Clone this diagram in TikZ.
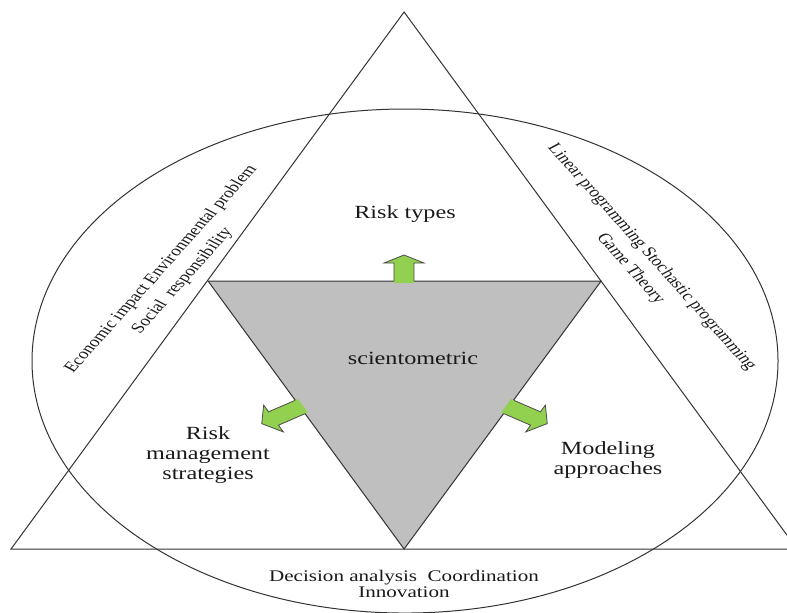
\documentclass[tikz,border=0pt]{standalone}
\usepackage{fontspec}
\setmainfont{Liberation Serif}
\usetikzlibrary{calc}
\definecolor{arrowgreen}{RGB}{146,208,80}
\definecolor{coregray}{RGB}{191,191,191}
\tikzset{
  outline/.style={draw=black!80,line width=0.5pt},
  lbl/.style={font=\fontsize{9.3}{10}\selectfont,align=center,text=black!90},
  botlbl/.style={font=\fontsize{8.1}{8.4}\selectfont,align=center,text=black!90},
  sidelbl/.style={font=\fontsize{7.4}{10}\selectfont,align=center,text=black!90},
  greenarrow/.pic={
    \fill[arrowgreen] (-1pt,-3.85pt) -- (9pt,-3.85pt) -- (9pt,-7.7pt) -- (13pt,0pt)
      -- (9pt,7.7pt) -- (9pt,3.85pt) -- (-1pt,3.85pt) -- cycle;
    \draw[black!70,line width=0.4pt] (0pt,-3.85pt) -- (9pt,-3.85pt) -- (9pt,-7.7pt)
      -- (13pt,0pt) -- (9pt,7.7pt) -- (9pt,3.85pt) -- (0pt,3.85pt);
  }
}

\begin{document}
\begin{tikzpicture}[x=0.3846pt,y=-0.5pt,xscale=1.3,transform shape]
\useasboundingbox (0,0) rectangle (787,612);
% corners
\coordinate (apex) at (404,12);
\coordinate (bl) at (11,549);
\coordinate (br) at (797,549);
\coordinate (gl) at (208,281);
\coordinate (gr) at (601,281);
\coordinate (gb) at (404,549);

\draw[outline] (405,361) ellipse [x radius=373, y radius=252];
\draw[outline] (apex) -- (bl) -- (br) -- cycle;
\draw[outline,fill=coregray] (gl) -- (gr) -- (gb) -- cycle; % inner triangle

% arrows out of the core
\pic[rotate=90] at (404,281) {greenarrow};
\pic[rotate=-150.6,xscale=1.3] at (300,407) {greenarrow};
\pic[rotate=-29.4,xscale=1.3] at (509,407) {greenarrow};

\node[lbl] (risktypes) at (405,214) {Risk types};
\node[lbl] (scimetric) at (413,358) {scientometric};
\node[lbl] (riskmgmt) at (208,455) {Risk\\management\\strategies};
\node[lbl] (modeling) at (608,460) {Modeling\\approaches};
\node[botlbl] (decision) at (404,584) {Decision analysis\ \ Coordination\\Innovation};
\node[sidelbl,rotate=55.3] (econ) at (172,275) {Economic impact Environmental problem\\Social\ \ responsibility};
\node[sidelbl,rotate=-55.3] (linear) at (641,263) {Linear programming Stochastic programming\\Game Theory};
\end{tikzpicture}
\end{document}
